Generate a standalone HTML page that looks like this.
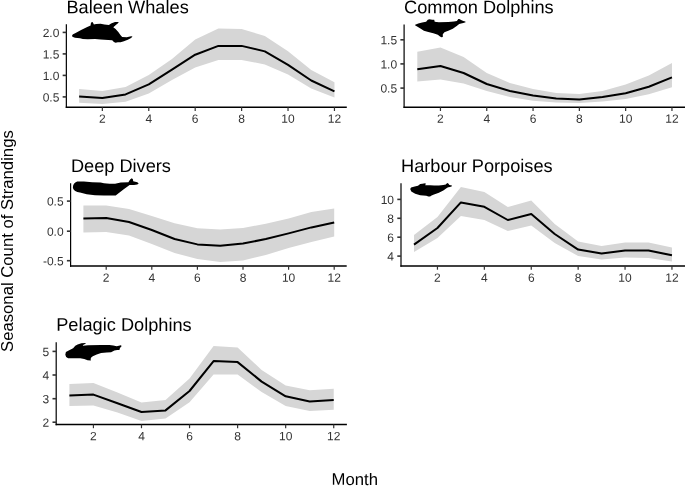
<!DOCTYPE html>
<html><head><meta charset="utf-8"><style>
html,body{margin:0;padding:0;background:#fff;width:685px;height:486px;overflow:hidden}
svg{display:block;will-change:transform}
text{font-family:"Liberation Sans", sans-serif}
.t{font-size:12px;fill:#333}
.h{font-size:18.2px;fill:#000}
.a{font-size:16.7px;fill:#000}
</style></head><body>
<svg width="685" height="486" viewBox="0 0 685 486">
<path d="M79.14,89 L102.35,91 L125.56,87 L148.77,75 L171.98,59 L195.19,39.5 L218.4,28.4 L241.61,29 L264.82,36 L288.03,51.3 L311.24,69.9 L334.45,82.2 L334.45,97.6 L311.24,88.4 L288.03,74.6 L264.82,64.4 L241.61,60 L218.4,60 L195.19,67.5 L171.98,80 L148.77,93.5 L125.56,101.8 L102.35,103.9 L79.14,102.8 Z" fill="#D6D6D6"/>
<path d="M79.14,96.4 L102.35,98 L125.56,94.4 L148.77,84.4 L171.98,69.6 L195.19,54.7 L218.4,45.9 L241.61,45.9 L264.82,51.4 L288.03,64.8 L311.24,80.5 L334.45,91.4" fill="none" stroke="#000" stroke-width="2.0" stroke-linejoin="round"/>
<path d="M72.1,35.8 C72.1,34.9 72.8,34.4 73.6,34.0 L75.6,33.1 L81.1,29.9 L86.7,27.2 L90.6,25.5 L90.8,23.6 L91.7,21.9 L92.8,22.2 L93.9,24.4 L96.1,24 L100.6,23.8 L104.4,24.4 L108.9,24.9 L111.1,23.6 L115,21.9 L118.3,21.9 L118.6,22.7 L116.1,24.7 L113.3,27.2 L115.6,29.1 L118.3,31.9 L120.6,35.2 L122.2,36.9 L126.7,37.2 L131.1,36.3 L132.5,36.6 L131.1,38 L127.8,39.7 L123.9,41.3 L120.6,42.2 L117.8,42.2 L115.6,42.7 L113.9,41.9 L112.2,40.2 L108.3,39.9 L100.6,39.4 L95,39.1 L87.8,39.2 L82.8,39.1 L80,38.3 L75,37.7 C73.2,37.3 72.1,36.8 72.1,35.8 Z" fill="#000"/>
<line x1="66.35" y1="24.2" x2="66.35" y2="108.1" stroke="#000" stroke-width="1.2"/>
<line x1="65.75" y1="107.3" x2="346.8" y2="107.3" stroke="#000" stroke-width="1.6"/>
<line x1="62.65" y1="32.4" x2="66.35" y2="32.4" stroke="#333" stroke-width="1.6"/>
<text x="59.35" y="36.9" transform="rotate(0.05,59.35,36.9)" text-anchor="end" class="t">2.0</text>
<line x1="62.65" y1="53.9" x2="66.35" y2="53.9" stroke="#333" stroke-width="1.6"/>
<text x="59.35" y="58.4" transform="rotate(0.05,59.35,58.4)" text-anchor="end" class="t">1.5</text>
<line x1="62.65" y1="75.4" x2="66.35" y2="75.4" stroke="#333" stroke-width="1.6"/>
<text x="59.35" y="79.9" transform="rotate(0.05,59.35,79.9)" text-anchor="end" class="t">1.0</text>
<line x1="62.65" y1="96.9" x2="66.35" y2="96.9" stroke="#333" stroke-width="1.6"/>
<text x="59.35" y="101.4" transform="rotate(0.05,59.35,101.4)" text-anchor="end" class="t">0.5</text>
<line x1="102.35" y1="107.3" x2="102.35" y2="111" stroke="#333" stroke-width="1.2"/>
<text x="102.35" y="122.8" transform="rotate(0.05,102.35,122.8)" text-anchor="middle" class="t">2</text>
<line x1="148.77" y1="107.3" x2="148.77" y2="111" stroke="#333" stroke-width="1.2"/>
<text x="148.77" y="122.8" transform="rotate(0.05,148.77,122.8)" text-anchor="middle" class="t">4</text>
<line x1="195.19" y1="107.3" x2="195.19" y2="111" stroke="#333" stroke-width="1.2"/>
<text x="195.19" y="122.8" transform="rotate(0.05,195.19,122.8)" text-anchor="middle" class="t">6</text>
<line x1="241.61" y1="107.3" x2="241.61" y2="111" stroke="#333" stroke-width="1.2"/>
<text x="241.61" y="122.8" transform="rotate(0.05,241.61,122.8)" text-anchor="middle" class="t">8</text>
<line x1="288.03" y1="107.3" x2="288.03" y2="111" stroke="#333" stroke-width="1.2"/>
<text x="288.03" y="122.8" transform="rotate(0.05,288.03,122.8)" text-anchor="middle" class="t">10</text>
<line x1="334.45" y1="107.3" x2="334.45" y2="111" stroke="#333" stroke-width="1.2"/>
<text x="334.45" y="122.8" transform="rotate(0.05,334.45,122.8)" text-anchor="middle" class="t">12</text>
<text x="66.4" y="13.2" transform="rotate(0.05,66.4,13.2)" class="h">Baleen Whales</text>
<path d="M417.3,51.8 L440.45,47.4 L463.6,57 L486.75,73 L509.9,83 L533.05,89 L556.2,93 L579.35,94 L602.5,91 L625.65,84.5 L648.8,75.6 L671.95,63.1 L671.95,87.2 L648.8,94.2 L625.65,99 L602.5,101.6 L579.35,103 L556.2,102.4 L533.05,100.7 L509.9,97 L486.75,91 L463.6,83.6 L440.45,79.6 L417.3,81.4 Z" fill="#D6D6D6"/>
<path d="M417.3,69.2 L440.45,66 L463.6,73 L486.75,84 L509.9,91 L533.05,95.6 L556.2,98.6 L579.35,99.4 L602.5,97 L625.65,93.2 L648.8,86.8 L671.95,77.4" fill="none" stroke="#000" stroke-width="2.0" stroke-linejoin="round"/>
<path d="M415.1,24.8 L418.3,23.4 L422.2,22.6 L426.1,21.8 L427.8,19.8 L429.4,19.3 L432.2,19.8 L434.2,19.8 L434.7,21.8 L438.9,22.2 L448.3,22.1 L453.9,21.5 L456.9,20.9 L458.3,19.1 L459.4,18.9 L461.1,20.1 L463.3,21.1 L465.3,21.5 L465.6,22.2 L463.3,22.9 L461.1,23.4 L459.2,24 L456.7,25.9 L452.8,28.7 L448.3,30.7 L444.4,32.3 L442.8,34.3 L442.8,36.9 L441.4,37.3 L440,36.6 L437.8,34.8 L433.3,33.2 L428.3,32.1 L423.9,30.7 L420,28.2 L416.7,26.2 L415.3,25.6 Z" fill="#000"/>
<line x1="404.1" y1="24.4" x2="404.1" y2="108.1" stroke="#000" stroke-width="1.2"/>
<line x1="403.5" y1="107.3" x2="685.5" y2="107.3" stroke="#000" stroke-width="1.6"/>
<line x1="400.4" y1="39.8" x2="404.1" y2="39.8" stroke="#333" stroke-width="1.6"/>
<text x="397.1" y="44.3" transform="rotate(0.05,397.1,44.3)" text-anchor="end" class="t">1.5</text>
<line x1="400.4" y1="63.9" x2="404.1" y2="63.9" stroke="#333" stroke-width="1.6"/>
<text x="397.1" y="68.4" transform="rotate(0.05,397.1,68.4)" text-anchor="end" class="t">1.0</text>
<line x1="400.4" y1="88.1" x2="404.1" y2="88.1" stroke="#333" stroke-width="1.6"/>
<text x="397.1" y="92.6" transform="rotate(0.05,397.1,92.6)" text-anchor="end" class="t">0.5</text>
<line x1="440.45" y1="107.3" x2="440.45" y2="111" stroke="#333" stroke-width="1.2"/>
<text x="440.45" y="122.8" transform="rotate(0.05,440.45,122.8)" text-anchor="middle" class="t">2</text>
<line x1="486.75" y1="107.3" x2="486.75" y2="111" stroke="#333" stroke-width="1.2"/>
<text x="486.75" y="122.8" transform="rotate(0.05,486.75,122.8)" text-anchor="middle" class="t">4</text>
<line x1="533.05" y1="107.3" x2="533.05" y2="111" stroke="#333" stroke-width="1.2"/>
<text x="533.05" y="122.8" transform="rotate(0.05,533.05,122.8)" text-anchor="middle" class="t">6</text>
<line x1="579.35" y1="107.3" x2="579.35" y2="111" stroke="#333" stroke-width="1.2"/>
<text x="579.35" y="122.8" transform="rotate(0.05,579.35,122.8)" text-anchor="middle" class="t">8</text>
<line x1="625.65" y1="107.3" x2="625.65" y2="111" stroke="#333" stroke-width="1.2"/>
<text x="625.65" y="122.8" transform="rotate(0.05,625.65,122.8)" text-anchor="middle" class="t">10</text>
<line x1="671.95" y1="107.3" x2="671.95" y2="111" stroke="#333" stroke-width="1.2"/>
<text x="671.95" y="122.8" transform="rotate(0.05,671.95,122.8)" text-anchor="middle" class="t">12</text>
<text x="404.1" y="13.2" transform="rotate(0.05,404.1,13.2)" class="h">Common Dolphins</text>
<path d="M83.4,205.4 L106.2,205.4 L129,209 L151.8,216 L174.6,223.2 L197.4,228.3 L220.2,229.4 L243,228 L265.8,223.8 L288.6,218.4 L311.4,212 L334.2,208.6 L334.2,236.6 L311.4,242 L288.6,248 L265.8,255 L243,260.5 L220.2,262 L197.4,259 L174.6,253 L151.8,244 L129,235.4 L106.2,232 L83.4,232.4 Z" fill="#D6D6D6"/>
<path d="M83.4,218.6 L106.2,218 L129,222 L151.8,230 L174.6,239 L197.4,244.4 L220.2,245.8 L243,243.6 L265.8,239 L288.6,233.4 L311.4,227.4 L334.2,222.4" fill="none" stroke="#000" stroke-width="2.0" stroke-linejoin="round"/>
<path d="M72.9,187.4 C72.9,184.8 74.3,182.4 77.2,181.5 L83.9,181.4 L92.2,182.3 L100.6,182.6 L104,183.2 L109.6,183.7 L115.1,183.7 L120.7,182.6 L128.4,182.3 L130.1,179.6 L131.8,178.2 L132.9,179.3 L133.2,181.2 L137.3,182.3 L138.7,183.4 L137.3,184.6 L134,185.1 L129.6,185.1 L123.4,189.6 L115.7,195.4 L104,195.4 L95,195.3 L86.7,194.2 L80,192.6 C76.5,191.7 73.2,190.5 72.9,187.4 Z" fill="#000"/>
<line x1="70.6" y1="183.3" x2="70.6" y2="266.8" stroke="#000" stroke-width="1.2"/>
<line x1="70" y1="266" x2="346.7" y2="266" stroke="#000" stroke-width="1.6"/>
<line x1="66.9" y1="201.1" x2="70.6" y2="201.1" stroke="#333" stroke-width="1.6"/>
<text x="63.6" y="205.6" transform="rotate(0.05,63.6,205.6)" text-anchor="end" class="t">0.5</text>
<line x1="66.9" y1="231.2" x2="70.6" y2="231.2" stroke="#333" stroke-width="1.6"/>
<text x="63.6" y="235.7" transform="rotate(0.05,63.6,235.7)" text-anchor="end" class="t">0.0</text>
<line x1="66.9" y1="260.7" x2="70.6" y2="260.7" stroke="#333" stroke-width="1.6"/>
<text x="63.6" y="265.2" transform="rotate(0.05,63.6,265.2)" text-anchor="end" class="t">-0.5</text>
<line x1="106.2" y1="266" x2="106.2" y2="269.7" stroke="#333" stroke-width="1.2"/>
<text x="106.2" y="281.7" transform="rotate(0.05,106.2,281.7)" text-anchor="middle" class="t">2</text>
<line x1="151.8" y1="266" x2="151.8" y2="269.7" stroke="#333" stroke-width="1.2"/>
<text x="151.8" y="281.7" transform="rotate(0.05,151.8,281.7)" text-anchor="middle" class="t">4</text>
<line x1="197.4" y1="266" x2="197.4" y2="269.7" stroke="#333" stroke-width="1.2"/>
<text x="197.4" y="281.7" transform="rotate(0.05,197.4,281.7)" text-anchor="middle" class="t">6</text>
<line x1="243" y1="266" x2="243" y2="269.7" stroke="#333" stroke-width="1.2"/>
<text x="243" y="281.7" transform="rotate(0.05,243,281.7)" text-anchor="middle" class="t">8</text>
<line x1="288.6" y1="266" x2="288.6" y2="269.7" stroke="#333" stroke-width="1.2"/>
<text x="288.6" y="281.7" transform="rotate(0.05,288.6,281.7)" text-anchor="middle" class="t">10</text>
<line x1="334.2" y1="266" x2="334.2" y2="269.7" stroke="#333" stroke-width="1.2"/>
<text x="334.2" y="281.7" transform="rotate(0.05,334.2,281.7)" text-anchor="middle" class="t">12</text>
<text x="70.9" y="172" transform="rotate(0.05,70.9,172)" class="h">Deep Divers</text>
<path d="M414,235 L437.45,217 L460.9,186.9 L484.35,192 L507.8,207 L531.25,200.6 L554.7,224 L578.15,241.6 L601.6,246 L625.05,242.6 L648.5,242.6 L671.95,247.6 L671.95,261.4 L648.5,258 L625.05,257.5 L601.6,259.6 L578.15,256 L554.7,243 L531.25,225.4 L507.8,231 L484.35,219.9 L460.9,216 L437.45,238 L414,252 Z" fill="#D6D6D6"/>
<path d="M414,244.6 L437.45,228 L460.9,202.4 L484.35,206.8 L507.8,220 L531.25,214 L554.7,234 L578.15,249.6 L601.6,253.6 L625.05,250.4 L648.5,250.6 L671.95,255.3" fill="none" stroke="#000" stroke-width="2.0" stroke-linejoin="round"/>
<path d="M410.2,189.1 L411.1,187.4 L414.7,186.6 L418,185.8 L420.2,184.1 L422.4,183.8 L425.2,183.3 L425.8,183.8 L425.2,185.2 L430.2,185.2 L434.1,185.6 L438.9,185.5 L443.3,184.9 L445.8,184.4 L447.2,183.1 L448.3,183.6 L449.4,184.9 L451.9,185.5 L451.9,186.3 L450,186.9 L448.3,187.2 L447.2,187.7 L443.3,190.5 L438.9,192.7 L433.3,194.7 L431.1,195.8 L430.1,196.6 L428.4,196.5 L426.3,195.8 L420.2,195.2 L415.2,193.8 L411.3,191.6 Z" fill="#000"/>
<line x1="401" y1="183.3" x2="401" y2="266.8" stroke="#000" stroke-width="1.2"/>
<line x1="400.4" y1="266" x2="685.5" y2="266" stroke="#000" stroke-width="1.6"/>
<line x1="397.3" y1="199.4" x2="401" y2="199.4" stroke="#333" stroke-width="1.6"/>
<text x="394" y="203.9" transform="rotate(0.05,394,203.9)" text-anchor="end" class="t">10</text>
<line x1="397.3" y1="218.3" x2="401" y2="218.3" stroke="#333" stroke-width="1.6"/>
<text x="394" y="222.8" transform="rotate(0.05,394,222.8)" text-anchor="end" class="t">8</text>
<line x1="397.3" y1="237.2" x2="401" y2="237.2" stroke="#333" stroke-width="1.6"/>
<text x="394" y="241.7" transform="rotate(0.05,394,241.7)" text-anchor="end" class="t">6</text>
<line x1="397.3" y1="256.1" x2="401" y2="256.1" stroke="#333" stroke-width="1.6"/>
<text x="394" y="260.6" transform="rotate(0.05,394,260.6)" text-anchor="end" class="t">4</text>
<line x1="437.45" y1="266" x2="437.45" y2="269.7" stroke="#333" stroke-width="1.2"/>
<text x="437.45" y="281.7" transform="rotate(0.05,437.45,281.7)" text-anchor="middle" class="t">2</text>
<line x1="484.35" y1="266" x2="484.35" y2="269.7" stroke="#333" stroke-width="1.2"/>
<text x="484.35" y="281.7" transform="rotate(0.05,484.35,281.7)" text-anchor="middle" class="t">4</text>
<line x1="531.25" y1="266" x2="531.25" y2="269.7" stroke="#333" stroke-width="1.2"/>
<text x="531.25" y="281.7" transform="rotate(0.05,531.25,281.7)" text-anchor="middle" class="t">6</text>
<line x1="578.15" y1="266" x2="578.15" y2="269.7" stroke="#333" stroke-width="1.2"/>
<text x="578.15" y="281.7" transform="rotate(0.05,578.15,281.7)" text-anchor="middle" class="t">8</text>
<line x1="625.05" y1="266" x2="625.05" y2="269.7" stroke="#333" stroke-width="1.2"/>
<text x="625.05" y="281.7" transform="rotate(0.05,625.05,281.7)" text-anchor="middle" class="t">10</text>
<line x1="671.95" y1="266" x2="671.95" y2="269.7" stroke="#333" stroke-width="1.2"/>
<text x="671.95" y="281.7" transform="rotate(0.05,671.95,281.7)" text-anchor="middle" class="t">12</text>
<text x="401" y="172" transform="rotate(0.05,401,172)" class="h">Harbour Porpoises</text>
<path d="M69.4,384 L93.43,383 L117.46,392.6 L141.49,402.6 L165.52,400 L189.55,378.5 L213.58,346 L237.61,347.4 L261.64,370 L285.67,385.6 L309.7,390.2 L333.73,388.7 L333.73,409.7 L309.7,411 L285.67,405.9 L261.64,392 L237.61,374.6 L213.58,374.6 L189.55,402.3 L165.52,418.6 L141.49,421 L117.46,412.6 L93.43,405.4 L69.4,406 Z" fill="#D6D6D6"/>
<path d="M69.4,395.6 L93.43,394.6 L117.46,403.2 L141.49,412 L165.52,410.4 L189.55,391 L213.58,361.1 L237.61,362.1 L261.64,381.6 L285.67,396.3 L309.7,401.6 L333.73,400" fill="none" stroke="#000" stroke-width="2.0" stroke-linejoin="round"/>
<path d="M65.3,354.7 L65.9,351.9 L68.7,350.5 L73.1,348.3 L75.3,345.8 L77.6,344.4 L81.4,343.3 L85.3,342.9 L85.9,343.6 L83.1,344.9 L82.8,345.8 L88.1,345.2 L101.1,344.9 L109.4,344.9 L113.3,345.5 L116.7,346.3 L118.9,345.8 L120.8,345.2 L121.7,346.1 L120,348 L119.4,349.9 L117.2,349.9 L114.4,350.5 L111.1,352.2 L106.7,352.6 L101.1,353 L96.7,354.4 L92.8,356.3 L91.2,357.5 L90.6,359.1 L90.9,360.5 L87.6,360.2 L84.2,359.1 L80.3,358.3 L73.1,358.3 L68.1,358.3 L66.2,356.9 Z" fill="#000"/>
<line x1="56.2" y1="342.3" x2="56.2" y2="425.3" stroke="#000" stroke-width="1.2"/>
<line x1="55.6" y1="424.5" x2="346.9" y2="424.5" stroke="#000" stroke-width="1.6"/>
<line x1="52.5" y1="351.4" x2="56.2" y2="351.4" stroke="#333" stroke-width="1.6"/>
<text x="49.2" y="355.9" transform="rotate(0.05,49.2,355.9)" text-anchor="end" class="t">5</text>
<line x1="52.5" y1="375" x2="56.2" y2="375" stroke="#333" stroke-width="1.6"/>
<text x="49.2" y="379.5" transform="rotate(0.05,49.2,379.5)" text-anchor="end" class="t">4</text>
<line x1="52.5" y1="398.7" x2="56.2" y2="398.7" stroke="#333" stroke-width="1.6"/>
<text x="49.2" y="403.2" transform="rotate(0.05,49.2,403.2)" text-anchor="end" class="t">3</text>
<line x1="52.5" y1="422.2" x2="56.2" y2="422.2" stroke="#333" stroke-width="1.6"/>
<text x="49.2" y="426.7" transform="rotate(0.05,49.2,426.7)" text-anchor="end" class="t">2</text>
<line x1="93.43" y1="424.5" x2="93.43" y2="428.2" stroke="#333" stroke-width="1.2"/>
<text x="93.43" y="440.2" transform="rotate(0.05,93.43,440.2)" text-anchor="middle" class="t">2</text>
<line x1="141.49" y1="424.5" x2="141.49" y2="428.2" stroke="#333" stroke-width="1.2"/>
<text x="141.49" y="440.2" transform="rotate(0.05,141.49,440.2)" text-anchor="middle" class="t">4</text>
<line x1="189.55" y1="424.5" x2="189.55" y2="428.2" stroke="#333" stroke-width="1.2"/>
<text x="189.55" y="440.2" transform="rotate(0.05,189.55,440.2)" text-anchor="middle" class="t">6</text>
<line x1="237.61" y1="424.5" x2="237.61" y2="428.2" stroke="#333" stroke-width="1.2"/>
<text x="237.61" y="440.2" transform="rotate(0.05,237.61,440.2)" text-anchor="middle" class="t">8</text>
<line x1="285.67" y1="424.5" x2="285.67" y2="428.2" stroke="#333" stroke-width="1.2"/>
<text x="285.67" y="440.2" transform="rotate(0.05,285.67,440.2)" text-anchor="middle" class="t">10</text>
<line x1="333.73" y1="424.5" x2="333.73" y2="428.2" stroke="#333" stroke-width="1.2"/>
<text x="333.73" y="440.2" transform="rotate(0.05,333.73,440.2)" text-anchor="middle" class="t">12</text>
<text x="56.2" y="330.8" transform="rotate(0.05,56.2,330.8)" class="h">Pelagic Dolphins</text>
<text x="354.8" y="484.9" transform="rotate(0.05,354.8,484.9)" text-anchor="middle" class="a">Month</text>
<text transform="translate(12.7,241.1) rotate(-90)" x="0" y="0" text-anchor="middle" class="a">Seasonal Count of Strandings</text>
</svg>
</body></html>
